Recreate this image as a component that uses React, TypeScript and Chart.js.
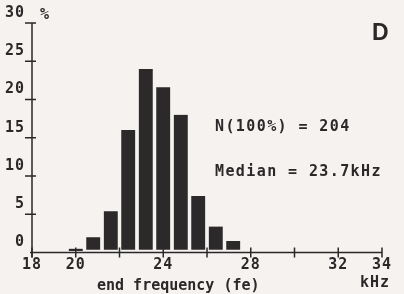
import React, { useEffect, useRef } from "react";
import { Chart, registerables } from "chart.js";

Chart.register(...registerables);

// Data
const binCentersKHz = [20.0, 20.8, 21.6, 22.4, 23.2, 24.0, 24.8, 25.6, 26.4, 27.2];
const percentages = [0.5, 2.0, 5.4, 16.0, 24.0, 21.6, 18.0, 7.4, 3.4, 1.5];
const xLabelledTicks = [18, 20, 24, 28, 32, 34];
const xAxisTitle = "end frequency (fe)";
const xUnit = "kHz";
const yUnit = "%";
const panelLetter = "D";
const annotationN = "N(100%) = 204";
const annotationMedian = "Median = 23.7kHz";

const BG = "#f5f2ef";
const INK = "#2a2829";
const MONO = "'DejaVu Sans Mono', monospace";

const decoPlugin = {
  id: "deco",
  beforeDraw(chart: any) {
    const ctx = chart.ctx;
    ctx.save();
    ctx.fillStyle = BG;
    ctx.fillRect(0, 0, chart.width, chart.height);
    ctx.restore();
    (ctx as any).letterSpacing = "1px";
  },
  afterDraw(chart: any) {
    const ctx = chart.ctx;
    const xs = chart.scales.x;
    const ys = chart.scales.y;
    const x0 = xs.getPixelForValue(18);
    const x1 = xs.getPixelForValue(34);
    const y0 = ys.getPixelForValue(0);
    const yTop = ys.getPixelForValue(30);
    ctx.save();
    ctx.strokeStyle = INK;
    ctx.lineWidth = 1.5;
    // axis lines
    ctx.beginPath();
    ctx.moveTo(x0, yTop);
    ctx.lineTo(x0, y0 + 5);
    ctx.moveTo(x0 - 2, y0);
    ctx.lineTo(x1, y0);
    ctx.stroke();
    // y tick marks
    ctx.beginPath();
    for (const t of ys.ticks) {
      if (t.value === 0) continue;
      const y = ys.getPixelForValue(t.value);
      ctx.moveTo(x0 - 7, y);
      ctx.lineTo(x0 + 4, y);
    }
    // x tick marks
    for (const t of xs.ticks) {
      const x = xs.getPixelForValue(t.value);
      ctx.moveTo(x, y0 - 5);
      ctx.lineTo(x, y0 + 5);
    }
    ctx.stroke();

    ctx.fillStyle = INK;
    ctx.textBaseline = "alphabetic";
    ctx.textAlign = "left";
    ctx.font = `bold 15px ${MONO}`;
    (ctx as any).letterSpacing = "1.4px";
    ctx.fillText(annotationN, 215, 130.5);
    ctx.fillText(annotationMedian, 215, 176);
    (ctx as any).letterSpacing = "1px";
    ctx.fillText(xUnit, 360, 286.5);
    (ctx as any).letterSpacing = "0px";
    ctx.fillText(xAxisTitle, 97, 289.5);
    ctx.font = `bold 15px ${MONO}`;
    ctx.fillText(yUnit, 40, 19);
    ctx.font = "bold 23px 'Liberation Sans', Arial, sans-serif";
    ctx.fillText(panelLetter, 372, 40);
    ctx.restore();
  },
};

export default function App() {
  const ref = useRef<HTMLCanvasElement>(null);
  useEffect(() => {
    if (!ref.current) return;
    const tickFont = { family: MONO, weight: "bold" as const, size: 15 };
    const chart = new Chart(ref.current, {
      type: "bar",
      data: {
        datasets: [
          {
            data: binCentersKHz.map((x, i) => ({ x, y: percentages[i] })),
            backgroundColor: "#2b292a",
            borderColor: BG,
            borderWidth: { top: 0, left: 0, right: 0, bottom: 3 },
            borderSkipped: false,
            barThickness: 14,
          } as any,
        ],
      },
      options: {
        responsive: false,
        animation: false,
        layout: { padding: { top: 23, right: 22, left: 0, bottom: 0 } },
        plugins: { legend: { display: false }, tooltip: { enabled: false } },
        scales: {
          x: {
            type: "linear",
            min: 18,
            max: 34,
            offset: false,
            grid: { display: false, drawTicks: false, offset: false },
            border: { display: false },
            ticks: {
              stepSize: 2,
              autoSkip: false,
              maxRotation: 0,
              padding: 3.5,
              font: tickFont,
              color: INK,
              callback: (v: any) => (xLabelledTicks.includes(Number(v)) ? String(v) : ""),
            },
            afterFit: (s: any) => {
              s.height = 41.5;
            },
          },
          y: {
            type: "linear",
            min: 0,
            max: 30,
            grid: { display: false, drawTicks: false },
            border: { display: false },
            ticks: {
              stepSize: 5,
              padding: 7,
              labelOffset: -10,
              font: tickFont,
              color: INK,
            },
            afterFit: (s: any) => {
              s.width = 32;
            },
          },
        },
      } as any,
      plugins: [decoPlugin],
    });
    return () => chart.destroy();
  }, []);
  return (
    <div style={{ position: "absolute", left: 0, top: 0, width: 404, height: 294, background: BG }}>
      <canvas ref={ref} width={404} height={294} style={{ display: "block" }} />
    </div>
  );
}
